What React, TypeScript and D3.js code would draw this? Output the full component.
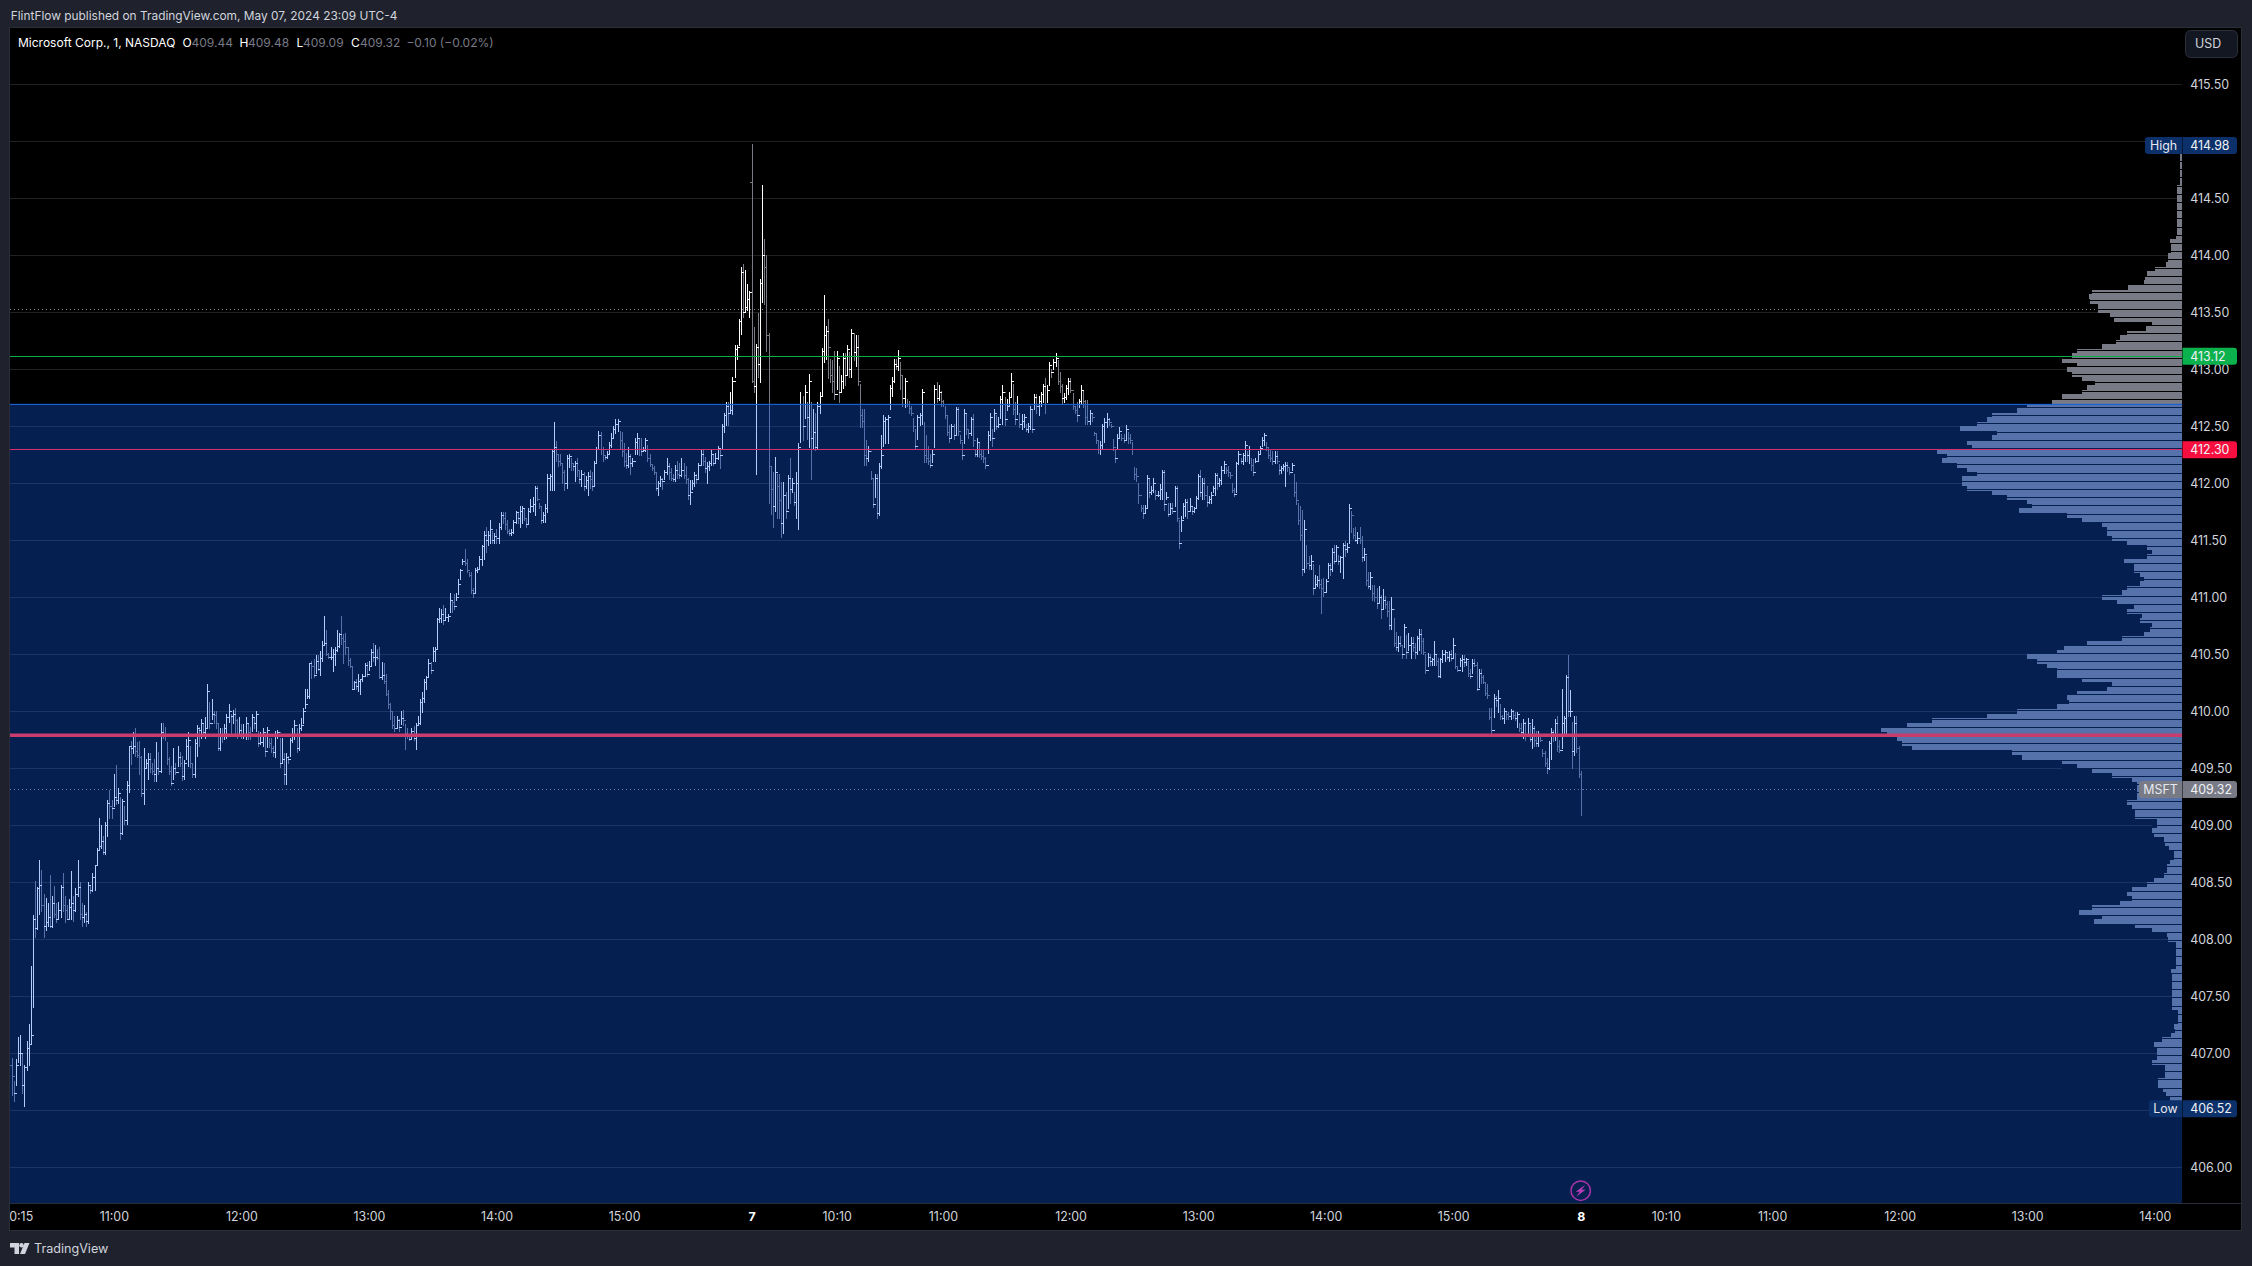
import * as d3 from "d3";

// Bars are 1 minute, prices stored in cents above 400 to keep the lists short
const PRICE_BASE = 400;

const barHighs = [
  696,676,695,714,716,700,690,711,726,777,
  821,851,846,870,861,840,836,832,856,838,
  847,832,833,848,858,838,830,835,860,838,
  845,870,850,832,830,824,850,848,858,865,
  880,906,900,891,903,922,931,922,945,953,
  933,925,923,917,939,970,974,982,985,973,
  974,961,968,958,963,963,955,958,973,964,
  990,990,986,973,960,952,968,955,970,964,
  961,957,976,982,970,954,976,988,986,993,
  990,995,1024,1008,1011,1000,1000,990,985,985,
  989,998,1006,998,1001,1003,993,995,989,989,
  995,990,986,998,995,1000,983,982,985,980,
  986,977,977,970,983,984,977,977,963,963,
  961,977,985,992,985,989,994,1003,1020,1020,
  1042,1044,1046,1049,1049,1053,1062,1084,1071,1051,
  1056,1055,1056,1071,1069,1084,1068,1069,1056,1047,
  1040,1027,1028,1033,1028,1033,1042,1043,1044,1055,
  1060,1058,1055,1056,1043,1042,1033,1019,1007,1000,
  996,996,993,1000,1001,989,985,979,985,987,
  990,996,1011,1017,1028,1031,1046,1043,1056,1056,
  1082,1091,1090,1093,1091,1085,1104,1098,1103,1104,
  1116,1125,1134,1142,1134,1122,1122,1108,1126,1127,
  1136,1146,1158,1162,1158,1168,1158,1156,1160,1165,
  1175,1175,1175,1168,1160,1160,1168,1176,1175,1180,
  1180,1178,1170,1178,1186,1188,1198,1198,1183,1180,
  1175,1182,1208,1208,1230,1254,1237,1226,1226,1218,
  1212,1225,1226,1222,1218,1220,1222,1212,1212,1210,
  1206,1210,1212,1210,1220,1232,1246,1245,1232,1225,
  1228,1236,1244,1250,1256,1256,1246,1245,1235,1227,
  1232,1226,1222,1240,1244,1240,1240,1232,1240,1234,
  1226,1217,1215,1210,1202,1206,1205,1212,1222,1218,
  1213,1208,1216,1220,1218,1222,1218,1215,1205,1203,
  1203,1210,1208,1218,1229,1229,1223,1219,1220,1229,
  1226,1227,1233,1230,1252,1262,1271,1271,1280,1293,
  1321,1321,1344,1390,1392,1387,1375,1369,1498,1337,
  1322,1349,1379,1462,1414,1400,1332,1215,1210,1223,
  1208,1208,1201,1201,1192,1207,1222,1205,1192,1210,
  1235,1280,1277,1286,1271,1296,1271,1265,1262,
  1271,1280,1319,1365,1338,1344,1309,1308,1316,1316,
  1303,1295,1314,1314,1321,1315,1335,1331,1330,1330,
  1287,1265,1265,1238,1233,1211,1204,1208,1208,1218,
  1242,1260,1258,1260,1286,1293,1309,1309,1317,1306,
  1295,1292,1274,1272,1268,1257,1248,1260,1262,1283,1254,
  1242,1233,1226,1230,1286,1289,1286,1281,1273,1268,
  1260,1251,1252,1252,1267,1267,1242,1236,1265,1261,
  1248,1258,1261,1230,1240,1235,1230,1229,1223,1246,
  1262,1248,1265,1260,1258,1277,1286,1276,1274,1280,
  1297,1287,1271,1277,1262,1261,1261,1252,1253,1268,
  1265,1278,1278,1277,1280,1287,1292,1286,1306,1300,
  1309,1314,1308,1298,1287,1279,1286,1292,1292,1279,
  1267,1271,1274,1286,1281,1273,1273,1264,1262,1245,
  1243,1237,1237,1252,1257,1262,1257,1252,1239,1230,
  1243,1249,1243,1243,1251,1245,1243,1236,1214,1213,
  1200,1181,1181,1181,1207,1204,1198,1205,1194,
  1193,1199,1212,1212,1192,1183,1183,1183,1198,1198,
  1168,1171,1183,1186,1186,1187,1180,1179,1189,1208,
  1212,1205,1205,1198,1189,1192,1198,1209,1209,1205,
  1215,1220,1214,1215,1209,1200,1196,1219,1228,1222,
  1227,1237,1228,1233,1222,1221,1222,1228,1233,1241,
  1244,1236,1231,1230,1228,1228,1228,1217,1215,1217,
  1219,1219,1214,1218,1208,1201,1183,1180,1177,1168,1146,
  1136,1137,1129,1120,1119,1128,1116,1117,1116,1130,
  1130,1143,1146,1146,1137,1136,1148,1149,1148,1182,
  1176,1161,1162,1157,1162,1154,1143,1136,1122,1122,
  1111,1111,1108,1110,1102,1107,1101,1097,1097,1100,
  1082,1070,1066,1066,1057,1077,1067,1069,1065,1065,
  1060,1066,1072,1072,1064,1050,1051,1050,1047,1062,
  1050,1047,1047,1054,1054,1051,1053,1054,1064,1051,
  1040,1047,1049,1049,1047,1044,1037,1046,1046,1043,
  1037,1037,1032,1025,1024,1003,1003,1015,1013,1019,
  1006,997,1003,1000,999,1002,1001,999,999,990,
  990,993,991,994,988,993,987,983,983,980,
  967,965,959,974,985,984,993,996,975,1020,
  996,1032,1049,1019,991,996,996,970,948,
];

const barLows = [
  663,658,672,692,690,665,654,685,690,708,
  741,802,809,822,825,802,808,812,811,811,
  820,815,818,820,825,815,818,818,818,816,
  825,838,818,812,815,812,814,841,842,843,
  865,878,880,875,875,891,906,906,917,919,
  920,888,892,901,901,929,954,963,961,960,
  945,926,919,950,941,947,945,939,939,945,
  947,977,975,954,945,935,941,945,952,952,
  940,941,958,952,951,942,942,961,970,977,
  979,977,986,985,993,990,985,966,966,973,
  976,977,991,978,990,979,977,978,977,977,
  976,976,976,983,985,983,970,971,970,961,
  969,969,964,961,960,977,951,955,936,936,
  955,961,973,976,964,966,984,990,1003,1012,
  1012,1029,1030,1034,1036,1032,1044,1058,1049,1047,
  1046,1035,1041,1053,1056,1059,1042,1050,1041,1039,
  1020,1020,1020,1018,1015,1027,1031,1031,1036,1040,
  1044,1041,1046,1029,1028,1025,1014,1003,993,985,
  983,986,983,989,988,967,977,975,977,975,
  967,989,989,999,1008,1020,1031,1034,1044,1044,
  1055,1078,1078,1077,1080,1079,1087,1087,1090,1098,
  1103,1116,1129,1128,1122,1119,1104,1100,1104,1122,
  1125,1128,1134,1140,1146,1148,1148,1148,1148,1148,
  1160,1165,1160,1156,1155,1155,1156,1165,1165,1162,
  1165,1168,1162,1165,1175,1176,1172,1185,1178,1165,
  1166,1166,1175,1194,1194,1194,1220,1215,1216,1200,
  1194,1196,1214,1212,1212,1202,1206,1200,1198,1194,
  1196,1190,1196,1194,1198,1218,1230,1226,1220,1221,
  1222,1226,1232,1240,1244,1246,1230,1224,1215,1213,
  1214,1208,1215,1226,1226,1225,1225,1228,1228,1220,
  1215,1212,1208,1194,1190,1198,1195,1204,1208,1204,
  1203,1202,1202,1205,1205,1206,1205,1200,1186,1182,
  1195,1198,1200,1205,1216,1216,1210,1200,1212,1216,
  1216,1219,1221,1213,1230,1245,1251,1251,1262,1261,
  1293,1309,1321,1331,1346,1350,1352,1346,1289,1280,
  1208,1293,1289,1359,1357,1316,1183,1173,1162,1176,
  1170,1170,1153,1156,1170,1178,1183,1192,1181,1170,
  1160,1236,1238,1257,1239,1232,1204,1230,1229,
  1230,1262,1277,1306,1309,1292,1289,1280,1274,1283,
  1271,1280,1284,1286,1295,1293,1293,1308,1303,1286,
  1249,1249,1216,1216,1220,1204,1179,1188,1170,1172,
  1213,1233,1235,1235,1265,1277,1289,1300,1299,1283,
  1268,1267,1268,1262,1260,1246,1230,1239,1251,1252,1219,
  1219,1217,1214,1219,1232,1271,1273,1268,1268,1257,
  1242,1236,1241,1239,1242,1242,1235,1221,1235,1243,
  1240,1242,1233,1224,1224,1223,1221,1219,1213,1227,
  1238,1233,1246,1248,1249,1257,1252,1251,1264,1268,
  1277,1261,1252,1261,1249,1248,1249,1246,1245,1248,
  1245,1265,1262,1260,1268,1271,1262,1271,1286,1293,
  1300,1303,1287,1280,1270,1271,1274,1278,1280,1265,
  1262,1255,1267,1270,1267,1252,1252,1252,1255,1242,
  1235,1227,1226,1230,1236,1249,1251,1249,1229,1219,
  1230,1240,1238,1236,1239,1235,1235,1226,1204,1202,
  1183,1176,1170,1175,1179,1188,1191,1192,1186,
  1189,1186,1186,1177,1186,1171,1173,1174,1180,1167,
  1143,1158,1170,1171,1170,1176,1173,1175,1179,1186,
  1189,1186,1186,1180,1183,1183,1192,1190,1195,1198,
  1199,1209,1209,1206,1205,1192,1189,1192,1217,1218,
  1217,1220,1220,1218,1212,1207,1219,1220,1227,1233,
  1234,1229,1222,1220,1217,1218,1218,1208,1209,1212,
  1198,1211,1208,1212,1189,1182,1164,1150,1120,1122,1126,
  1125,1125,1103,1108,1110,1108,1086,1101,1105,1117,
  1120,1123,1130,1133,1129,1122,1117,1136,1140,1148,
  1157,1152,1149,1148,1148,1132,1133,1111,1108,1107,
  1098,1097,1091,1095,1082,1091,1091,1084,1072,1072,
  1057,1054,1053,1057,1047,1056,1047,1054,1047,1053,
  1047,1050,1054,1051,1050,1034,1040,1041,1041,1041,
  1041,1030,1030,1043,1044,1046,1044,1045,1047,1038,
  1035,1040,1035,1040,1041,1031,1029,1034,1040,1019,
  1021,1025,1025,1014,1012,993,981,995,1005,999,
  993,993,990,993,993,993,994,992,986,983,
  980,977,975,981,974,968,970,970,970,974,
  961,952,946,949,958,974,975,965,964,968,
  978,978,996,996,950,962,964,942,909,
];

const barCloses = [
  680,665,690,700,700,672,688,705,708,716,
  818,810,845,848,830,812,815,820,812,832,
  822,818,826,846,830,826,818,828,832,826,
  840,846,822,820,822,816,848,843,855,865,
  878,882,886,877,900,920,917,915,925,922,
  928,893,921,905,935,970,968,970,965,962,
  960,928,950,955,958,950,948,945,950,948,
  982,980,978,958,948,937,950,947,960,955,
  943,955,970,975,955,945,972,985,984,990,
  982,985,1018,990,998,997,990,968,980,978,
  985,995,1000,996,998,992,980,984,978,980,
  990,982,978,995,990,998,972,973,982,965,
  984,972,968,964,978,982,955,958,945,960,
  958,975,978,988,968,985,988,1000,1006,1013,
  1042,1040,1032,1044,1037,1047,1058,1060,1050,1048,
  1048,1050,1054,1057,1068,1064,1062,1056,1045,1040,
  1020,1026,1022,1027,1028,1031,1041,1033,1040,1052,
  1048,1048,1047,1030,1032,1027,1015,1006,1000,988,
  985,992,986,994,992,981,979,976,983,977,
  988,990,1008,1012,1026,1030,1042,1036,1053,1055,
  1081,1082,1085,1080,1083,1084,1098,1096,1092,1100,
  1112,1124,1132,1130,1124,1120,1106,1104,1124,1125,
  1134,1145,1155,1150,1155,1160,1150,1154,1152,1162,
  1172,1170,1164,1158,1156,1157,1166,1175,1170,1176,
  1178,1170,1164,1176,1180,1182,1196,1186,1180,1168,
  1172,1178,1205,1206,1228,1232,1226,1220,1218,1210,
  1200,1222,1224,1218,1215,1218,1212,1204,1208,1198,
  1203,1206,1204,1198,1218,1230,1242,1230,1225,1223,
  1226,1234,1240,1248,1252,1255,1238,1228,1220,1216,
  1224,1218,1220,1236,1240,1230,1228,1229,1238,1222,
  1217,1213,1210,1196,1200,1204,1202,1210,1215,1210,
  1205,1204,1212,1208,1207,1212,1207,1204,1190,1192,
  1200,1207,1204,1216,1226,1220,1213,1215,1218,1226,
  1218,1222,1231,1225,1250,1260,1268,1262,1264,1290,
  1318,1320,1342,1385,1350,1355,1362,1368,1290,1285,
  1320,1305,1376,1400,1390,1330,1215,1195,1180,1210,
  1198,1185,1165,1190,1176,1205,1195,1200,1184,1200,
  1232,1270,1250,1280,1258,1290,1240,1245,1232,
  1268,1277,1316,1330,1334,1320,1295,1290,1278,1310,
  1280,1290,1310,1295,1318,1300,1332,1315,1320,1290,
  1260,1255,1225,1222,1228,1205,1182,1205,1174,1215,
  1225,1255,1256,1258,1284,1290,1305,1303,1310,1295,
  1275,1290,1270,1266,1262,1250,1233,1258,1260,1280,1225,
  1222,1220,1216,1226,1283,1275,1280,1272,1270,1260,
  1245,1240,1250,1242,1265,1246,1238,1225,1262,1248,
  1244,1256,1238,1226,1236,1226,1224,1222,1216,1242,
  1258,1240,1262,1250,1252,1274,1280,1256,1268,1276,
  1290,1265,1256,1270,1252,1255,1258,1248,1250,1265,
  1248,1276,1268,1272,1278,1285,1270,1282,1304,1298,
  1306,1310,1290,1285,1275,1276,1284,1290,1282,1268,
  1264,1260,1272,1282,1272,1258,1255,1262,1258,1244,
  1238,1230,1234,1250,1254,1256,1254,1250,1232,1222,
  1240,1246,1240,1238,1248,1240,1238,1230,1208,1206,
  1190,1178,1174,1178,1205,1192,1194,1200,1190,
  1190,1195,1210,1182,1188,1173,1178,1176,1196,1170,
  1148,1168,1180,1184,1176,1180,1176,1178,1187,1206,
  1192,1200,1190,1184,1186,1190,1196,1207,1200,1203,
  1212,1217,1212,1210,1207,1194,1191,1218,1226,1220,
  1225,1234,1225,1230,1216,1210,1220,1226,1231,1238,
  1242,1232,1225,1222,1220,1224,1220,1212,1213,1215,
  1216,1214,1210,1216,1192,1185,1168,1155,1125,1160,1130,
  1128,1132,1108,1112,1115,1112,1108,1105,1114,1128,
  1125,1140,1132,1144,1132,1135,1146,1142,1144,1178,
  1172,1155,1150,1152,1150,1135,1138,1115,1110,1118,
  1104,1100,1095,1100,1090,1098,1094,1088,1076,1090,
  1060,1056,1060,1058,1050,1074,1052,1058,1060,1056,
  1052,1064,1068,1062,1052,1036,1048,1044,1046,1050,
  1044,1031,1046,1050,1052,1048,1050,1047,1058,1040,
  1036,1045,1046,1043,1046,1034,1031,1042,1041,1020,
  1034,1030,1026,1016,1014,995,984,1012,1010,1012,
  996,994,1000,998,996,1000,997,994,998,985,
  982,990,978,990,976,985,975,972,979,975,
  963,955,950,972,982,980,990,970,966,990,
  994,1030,1000,1000,965,990,968,945,932,
];

// Session opens that gap away from the previous close
const gapOpens: Record<number, number> = { 0: 690, 348: 1464 };

// Volume profile, top row first (414.98 downwards, 4 cent rows)
const PROFILE_TOP = 414.98;
const PROFILE_STEP = 0.04;
const profileVolumes = [
  2,2,2,2,2,2,2,2,2,5,5,5,5,5,5,5,5,5,5,5,
  6,12,11,11,14,14,16,27,35,37,38,54,90,93,92,84,84,72,68,30,
  36,55,62,66,80,105,110,120,105,115,110,100,87,95,100,120,130,155,165,190,
  195,205,222,185,190,215,210,245,235,240,225,215,205,220,220,215,190,175,155,150,
  163,115,100,80,75,75,70,55,35,30,35,58,48,48,42,38,42,55,60,80,
  65,48,55,40,42,30,32,38,60,95,118,125,155,145,135,125,125,100,70,75,
  105,115,113,125,165,195,250,275,301,295,285,280,270,170,160,120,105,90,70,50,
  45,45,45,45,55,50,47,47,25,25,30,28,18,17,13,8,8,12,15,15,
  18,28,35,50,55,50,62,90,103,80,88,47,30,15,14,6,6,6,6,6,
  6,11,10,10,10,10,10,10,10,10,4,4,4,8,7,11,20,28,25,25,
  25,30,17,17,17,24,24,19,16,12,
];

const priceTicks = d3.range(406, 415.51, 0.5);
const timeTicks = [
  { label: "10:15", bar: 3, day: false },
  { label: "11:00", bar: 48, day: false },
  { label: "12:00", bar: 108, day: false },
  { label: "13:00", bar: 168, day: false },
  { label: "14:00", bar: 228, day: false },
  { label: "15:00", bar: 288, day: false },
  { label: "7", bar: 348, day: true },
  { label: "10:10", bar: 388, day: false },
  { label: "11:00", bar: 438, day: false },
  { label: "12:00", bar: 498, day: false },
  { label: "13:00", bar: 558, day: false },
  { label: "14:00", bar: 618, day: false },
  { label: "15:00", bar: 678, day: false },
  { label: "8", bar: 738, day: true },
  { label: "10:10", bar: 778, day: false },
  { label: "11:00", bar: 828, day: false },
  { label: "12:00", bar: 888, day: false },
  { label: "13:00", bar: 948, day: false },
  { label: "14:00", bar: 1008, day: false },
];

const VALUE_AREA_HIGH = 412.7;
const POC = 409.79;
const LAST_PRICE = 409.32;
const PRICE_HIGH = 414.98;
const PRICE_LOW = 406.52;
const PRICE_GREEN = 413.12;
const PRICE_RED = 412.3;
const PRICE_DOTTED = 413.53;

const WIDTH = 2252;
const HEIGHT = 1266;
const plot = { left: 10, top: 28, right: 2182, bottom: 1203 };
const frame = { right: 2241, bottom: 1230 };
const FONT = "Inter, 'Liberation Sans', sans-serif";

const App = () => {
  const yScale = d3
    .scaleLinear()
    .domain([408, 415.5])
    .range([939.3, 84.3]);
  const xScale = d3
    .scaleLinear()
    .domain([0, 738])
    .range([11.7, 11.7 + 738 * 2.126]);
  const volumeScale = d3.scaleLinear().domain([0, 301]).range([0, 301]);

  const yCents = (c: number) => Math.round(yScale(PRICE_BASE + c / 100));

  // build the OHLC paths, one per direction
  const upPath = d3.path();
  const downPath = d3.path();
  barCloses.forEach((close, i) => {
    const open = gapOpens[i] ?? barCloses[i - 1];
    const x = Math.round(xScale(i)) + 0.5;
    const p = close >= open ? upPath : downPath;
    p.moveTo(x, yCents(barHighs[i]));
    p.lineTo(x, yCents(barLows[i]) + 1);
    p.moveTo(x - 2.5, yCents(open) + 0.5);
    p.lineTo(x, yCents(open) + 0.5);
    p.moveTo(x, yCents(close) + 0.5);
    p.lineTo(x + 2.5, yCents(close) + 0.5);
  });

  const profileRowHeight = Math.abs(yScale(0) - yScale(PROFILE_STEP));
  const profileTopY = yScale(PROFILE_TOP);
  const profileBottomY = profileTopY + profileVolumes.length * profileRowHeight;
  // dark row separators of the profile, read at y 423.3 and every 8.2 px,
  // each only as long as the rows around it
  const separators = d3
    .range(-400, 400)
    .map((k) => 423.3 + k * 8.2)
    .filter((y) => y > profileTopY && y < profileBottomY)
    .map((y) => {
      const row = Math.floor((y - profileTopY) / profileRowHeight);
      const v = d3.max(profileVolumes.slice(Math.max(0, row - 1), row + 2)) ?? 0;
      return { y: Math.round(y) + 0.5, width: volumeScale(v) };
    });

  const priceLabel = (
    price: number,
    fill: string,
    tag?: string,
    tagWidth?: number,
    nudge = 0.7
  ) => {
    const y = yScale(price) + nudge;
    return (
      <g>
        {tag && tagWidth && (
          <g>
            <path
              d={`M${plot.right},${y - 8.5}H${plot.right - tagWidth + 3}a3,3 0 0 0 -3,3V${y + 5.5}a3,3 0 0 0 3,3H${plot.right}Z`}
              fill={fill}
            />
            <text x={plot.right - tagWidth / 2} y={y} fill="#e6e8ee" fontSize={12.4} textAnchor="middle" dominantBaseline="central">
              {tag}
            </text>
          </g>
        )}
        <path
          d={`M${plot.right + 0.5},${y - 8.5}H2234a3,3 0 0 1 3,3V${y + 5.5}a3,3 0 0 1 -3,3H${plot.right + 0.5}Z`}
          fill={fill}
        />
        <text x={2190.3} y={y} fill="#f0f2f6" fontSize={12.4} dominantBaseline="central">
          {price.toFixed(2)}
        </text>
      </g>
    );
  };

  return (
    <svg
      width={WIDTH}
      height={HEIGHT}
      viewBox={`0 0 ${WIDTH} ${HEIGHT}`}
      style={{ position: "absolute", left: 0, top: 0, display: "block" }}
      fontFamily={FONT}
    >
      <defs>
        <clipPath id="plot-clip">
          <rect x={plot.left} y={plot.top} width={plot.right - plot.left} height={plot.bottom - plot.top} />
        </clipPath>
        <clipPath id="time-clip">
          <rect x={plot.left} y={plot.bottom} width={frame.right - plot.left} height={frame.bottom - plot.bottom} />
        </clipPath>
      </defs>

      {/* page and frame */}
      <rect width={WIDTH} height={HEIGHT} fill="#1f222d" />
      <rect
        x={plot.left - 0.5}
        y={plot.top - 0.5}
        width={frame.right - plot.left + 1}
        height={frame.bottom - plot.top + 1}
        fill="#000"
        stroke="#2a2e39"
      />

      <g clipPath="url(#plot-clip)">
        {/* grid */}
        {priceTicks.map((p) => (
          <line
            key={p}
            x1={plot.left}
            x2={plot.right}
            y1={Math.round(yScale(p)) + 0.5}
            y2={Math.round(yScale(p)) + 0.5}
            stroke="#fff"
            strokeOpacity={0.13}
          />
        ))}

        {/* dotted levels */}
        {[PRICE_DOTTED, LAST_PRICE].map((p) => (
          <line
            key={p}
            x1={plot.left}
            x2={plot.right}
            y1={Math.round(yScale(p)) + 0.5}
            y2={Math.round(yScale(p)) + 0.5}
            stroke="#8a8d99"
            strokeDasharray="1 3"
          />
        ))}

        {/* ohlc bars */}
        <path d={downPath.toString()} fill="none" stroke="#787b86" shapeRendering="crispEdges" />
        <path d={upPath.toString()} fill="none" stroke="#fff" shapeRendering="crispEdges" />

        {/* volume profile */}
        {profileVolumes.map((v, k) => (
          <rect
            key={k}
            x={plot.right - volumeScale(v)}
            y={profileTopY + k * profileRowHeight}
            width={volumeScale(v)}
            height={profileRowHeight + 0.4}
            fill="#787b86"
            shapeRendering="crispEdges"
          />
        ))}
        {separators.map((s) => (
          <line
            key={s.y}
            x1={plot.right - s.width}
            x2={plot.right}
            y1={s.y}
            y2={s.y}
            stroke="#000"
          />
        ))}

        {/* value area tint sits over everything below it */}
        <rect
          x={plot.left}
          y={yScale(VALUE_AREA_HIGH)}
          width={plot.right - plot.left}
          height={plot.bottom - yScale(VALUE_AREA_HIGH)}
          fill="rgb(12,97,250)"
          fillOpacity={0.32}
        />
        <line
          x1={plot.left}
          x2={plot.right}
          y1={Math.round(yScale(VALUE_AREA_HIGH)) + 0.5}
          y2={Math.round(yScale(VALUE_AREA_HIGH)) + 0.5}
          stroke="#1c60cc"
        />

        {/* level lines */}
        <line x1={plot.left} x2={plot.right} y1={Math.round(yScale(PRICE_GREEN)) + 0.5} y2={Math.round(yScale(PRICE_GREEN)) + 0.5} stroke="#0bb04a" />
        <line x1={plot.left} x2={plot.right} y1={Math.round(yScale(PRICE_RED)) + 0.5} y2={Math.round(yScale(PRICE_RED)) + 0.5} stroke="#d92d72" />
        <line x1={plot.left} x2={plot.right} y1={yScale(POC)} y2={yScale(POC)} stroke="#c83c6e" strokeWidth={3.6} />
      </g>

      {/* lightning marker */}
      <g transform={`translate(${xScale(738)},1190.7)`}>
        <circle r={9.7} fill="none" stroke="#a834a8" strokeWidth={1.5} />
        <path d="M4.5,-6 L-5,1 L-1,1 L-4.5,6 L5,-1 L1,-1 Z" fill="#b83cb8" />
      </g>

      {/* time axis */}
      <line x1={plot.left} x2={frame.right} y1={plot.bottom + 0.5} y2={plot.bottom + 0.5} stroke="#2a2e39" />
      <g clipPath="url(#time-clip)">
        {timeTicks.map((t) => (
          <text
            key={`${t.label}-${t.bar}`}
            x={xScale(t.bar) + (t.day ? 0.5 : 0.6)}
            y={1216.6}
            fill={t.day ? "#fff" : "#d1d4dc"}
            fontSize={12.4}
            fontWeight={t.day ? 700 : 400}
            textAnchor="middle"
            dominantBaseline="central"
          >
            {t.label}
          </text>
        ))}
      </g>

      {/* price axis, 415.00 and 406.50 sit behind the High and Low labels */}
      {priceTicks
        .filter((p) => p !== 415 && p !== 406.5)
        .map((p) => (
          <text key={p} x={2190.3} y={yScale(p) + 0.4} fill="#d1d4dc" fontSize={12.4} dominantBaseline="central">
            {p.toFixed(2)}
          </text>
        ))}
      {priceLabel(PRICE_GREEN, "#0ab14d")}
      {priceLabel(PRICE_RED, "#f7103f")}
      {priceLabel(PRICE_HIGH, "#0c3069", "High", 37, 1.8)}
      {priceLabel(PRICE_LOW, "#0c3069", "Low", 33)}
      {priceLabel(LAST_PRICE, "#787b86", "MSFT", 43)}

      {/* currency button */}
      <rect x={2185.5} y={30.5} width={52} height={27} rx={5} fill="#131722" stroke="#2a2e39" />
      <text x={2195} y={43.5} fill="#d1d4dc" fontSize={12.4} dominantBaseline="central">USD</text>

      {/* header and legend */}
      <text x={10.7} y={15.5} fill="#d1d4dc" fontSize={11.9} dominantBaseline="central">
        FlintFlow published on TradingView.com, May 07, 2024 23:09 UTC-4
      </text>
      <g fontSize={12} dominantBaseline="central">
        <text x={18} y={42.5} fill="#fff">Microsoft Corp., 1, NASDAQ</text>
        <text x={182.5} y={42.5} fill="#fff">O</text>
        <text x={191.5} y={42.5} fill="#787b86">409.44</text>
        <text x={239.5} y={42.5} fill="#fff">H</text>
        <text x={248} y={42.5} fill="#787b86">409.48</text>
        <text x={296.5} y={42.5} fill="#fff">L</text>
        <text x={303} y={42.5} fill="#787b86">409.09</text>
        <text x={351} y={42.5} fill="#fff">C</text>
        <text x={360} y={42.5} fill="#787b86">409.32</text>
        <text x={406.4} y={42.5} fill="#787b86">−0.10 (−0.02%)</text>
      </g>

      {/* footer logo */}
      <g fill="#d1d4dc">
        <path d="M10,1243H19V1254H14.5V1247.5H10Z" />
        <circle cx={21.5} cy={1245.2} r={2.2} />
        <path d="M24.5,1243H29.5L25,1254H20Z" />
      </g>
      <text x={34} y={1248.5} fill="#d1d4dc" fontSize={12.6} dominantBaseline="central">TradingView</text>
    </svg>
  );
};

export default App;
